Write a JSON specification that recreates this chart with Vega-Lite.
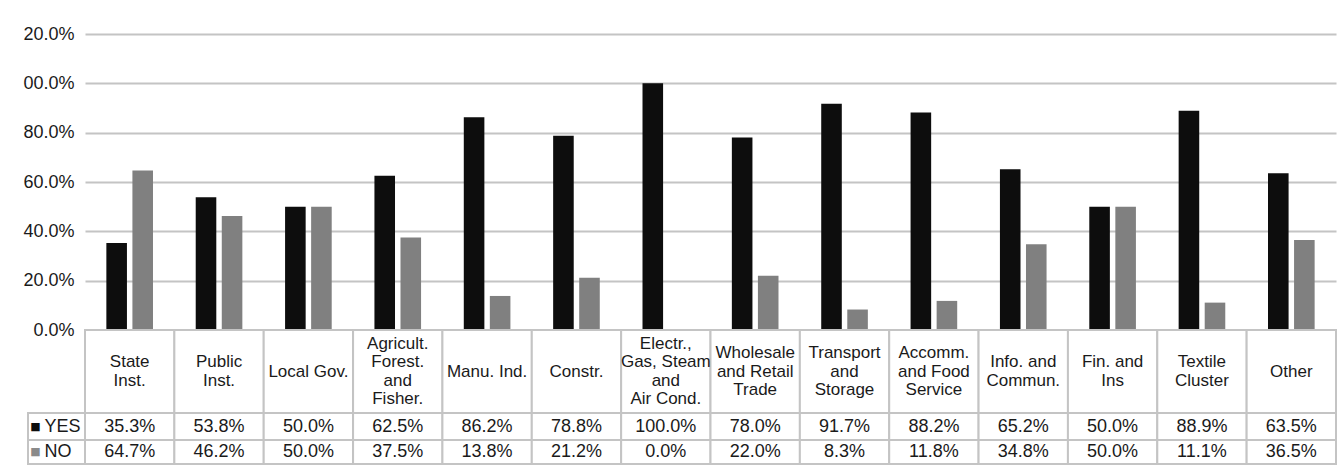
{
  "$schema": "https://vega.github.io/schema/vega-lite/v6.json",
  "padding": {"left": 22, "top": 25, "right": 0, "bottom": 0},
  "background": "white",
  "config": {
    "font": "Liberation Sans",
    "view": {"stroke": null},
    "text": {"font": "Liberation Sans", "color": "#1a1a1a"}
  },
  "datasets": {
    "vals": [
      {"cat": "State\nInst.", "series": "YES", "value": 0.353},
      {"cat": "Public\nInst.", "series": "YES", "value": 0.538},
      {"cat": "Local Gov.", "series": "YES", "value": 0.500},
      {"cat": "Agricult.\nForest.\nand\nFisher.", "series": "YES", "value": 0.625},
      {"cat": "Manu. Ind.", "series": "YES", "value": 0.862},
      {"cat": "Constr.", "series": "YES", "value": 0.788},
      {"cat": "Electr.,\nGas, Steam\nand\nAir Cond.", "series": "YES", "value": 1.000},
      {"cat": "Wholesale\nand Retail\nTrade", "series": "YES", "value": 0.780},
      {"cat": "Transport\nand\nStorage", "series": "YES", "value": 0.917},
      {"cat": "Accomm.\nand Food\nService", "series": "YES", "value": 0.882},
      {"cat": "Info. and\nCommun.", "series": "YES", "value": 0.652},
      {"cat": "Fin. and\nIns", "series": "YES", "value": 0.500},
      {"cat": "Textile\nCluster", "series": "YES", "value": 0.889},
      {"cat": "Other", "series": "YES", "value": 0.635},
      {"cat": "State\nInst.", "series": "NO", "value": 0.647},
      {"cat": "Public\nInst.", "series": "NO", "value": 0.462},
      {"cat": "Local Gov.", "series": "NO", "value": 0.500},
      {"cat": "Agricult.\nForest.\nand\nFisher.", "series": "NO", "value": 0.375},
      {"cat": "Manu. Ind.", "series": "NO", "value": 0.138},
      {"cat": "Constr.", "series": "NO", "value": 0.212},
      {"cat": "Electr.,\nGas, Steam\nand\nAir Cond.", "series": "NO", "value": 0.000},
      {"cat": "Wholesale\nand Retail\nTrade", "series": "NO", "value": 0.220},
      {"cat": "Transport\nand\nStorage", "series": "NO", "value": 0.083},
      {"cat": "Accomm.\nand Food\nService", "series": "NO", "value": 0.118},
      {"cat": "Info. and\nCommun.", "series": "NO", "value": 0.348},
      {"cat": "Fin. and\nIns", "series": "NO", "value": 0.500},
      {"cat": "Textile\nCluster", "series": "NO", "value": 0.111},
      {"cat": "Other", "series": "NO", "value": 0.365}
    ]
  },
  "data": {"name": "vals"},
  "columns": 2,
  "spacing": 0,
  "align": "each",
  "bounds": "flush",
  "concat": [
    {
      "width": 57, "height": 296,
      "transform": [{"filter": "false"}],
      "mark": {"type": "text"},
      "encoding": {}
    },
    {
      "width": 1251, "height": 296,
      "mark": {"type": "bar"},
      "encoding": {
        "x": {"field": "cat", "type": "nominal", "sort": null, "scale": {"paddingInner": 0, "paddingOuter": 0}, "axis": null},
        "xOffset": {"field": "series", "type": "nominal", "sort": ["YES", "NO"], "scale": {"paddingInner": 0.21, "paddingOuter": 0.82}},
        "y": {
          "field": "value", "type": "quantitative",
          "scale": {"domain": [0, 1.2]},
          "axis": {
            "values": [0, 0.2, 0.4, 0.6, 0.8, 1.0, 1.2],
            "labelExpr": "datum.value >= 0.99 ? substring(format(datum.value, '.1%'), 1) : format(datum.value, '.1%')",
            "domain": false, "ticks": false, "grid": true,
            "gridColor": "#c4c4c4", "gridWidth": 2,
            "labelFontSize": 18, "labelPadding": 11, "labelColor": "#1a1a1a",
            "labelFont": "Liberation Sans",
            "title": null
          }
        },
        "color": {"field": "series", "type": "nominal", "scale": {"domain": ["YES", "NO"], "range": ["#0d0d0d", "#808080"]}, "legend": null}
      }
    },
    {
      "width": 57, "height": 83,
      "transform": [{"filter": "false"}],
      "mark": {"type": "text"},
      "encoding": {}
    },
    {
      "width": 1251, "height": 83,
      "transform": [{"filter": "datum.series == 'YES'"}],
      "layer": [
        {
          "mark": {"type": "rect", "fill": "white", "stroke": "#c4c4c4", "strokeWidth": 2},
          "encoding": {
            "x": {"field": "cat", "type": "nominal", "sort": null, "scale": {"paddingInner": 0, "paddingOuter": 0}, "axis": null}
          }
        },
        {
          "mark": {
            "type": "text", "fontSize": 17, "lineHeight": 18.5, "lineBreak": "\n", "baseline": "middle",
            "dy": {"expr": "-(length(split(datum.cat, '\\n')) - 1) * 9.25"}
          },
          "encoding": {
            "x": {"field": "cat", "type": "nominal", "sort": null, "scale": {"paddingInner": 0, "paddingOuter": 0}, "axis": null},
            "text": {"field": "cat"}
          }
        }
      ]
    },
    {
      "width": 57, "height": 27,
      "view": {"stroke": "#c4c4c4", "strokeWidth": 2},
      "transform": [{"filter": "datum.series == 'YES' && datum.cat == 'Other'"}],
      "layer": [
        {
          "mark": {"type": "text", "font": "DejaVu Sans", "fontSize": 11, "dx": -21, "baseline": "middle", "color": "#0d0d0d"},
          "encoding": {"text": {"value": "■"}}
        },
        {
          "mark": {"type": "text", "fontSize": 18, "align": "left", "dx": -12, "baseline": "middle"},
          "encoding": {"text": {"field": "series"}}
        }
      ]
    },
    {
      "width": 1251, "height": 27,
      "transform": [{"filter": "datum.series == 'YES'"}],
      "layer": [
        {
          "mark": {"type": "rect", "fill": "white", "stroke": "#c4c4c4", "strokeWidth": 2},
          "encoding": {
            "x": {"field": "cat", "type": "nominal", "sort": null, "scale": {"paddingInner": 0, "paddingOuter": 0}, "axis": null}
          }
        },
        {
          "mark": {"type": "text", "fontSize": 18, "baseline": "middle"},
          "encoding": {
            "x": {"field": "cat", "type": "nominal", "sort": null, "scale": {"paddingInner": 0, "paddingOuter": 0}, "axis": null},
            "text": {"field": "value", "format": ".1%"}
          }
        }
      ]
    },
    {
      "width": 57, "height": 24,
      "view": {"stroke": "#c4c4c4", "strokeWidth": 2},
      "transform": [{"filter": "datum.series == 'NO' && datum.cat == 'Other'"}],
      "layer": [
        {
          "mark": {"type": "text", "font": "DejaVu Sans", "fontSize": 11, "dx": -21, "baseline": "middle", "color": "#8a8a8a"},
          "encoding": {"text": {"value": "■"}}
        },
        {
          "mark": {"type": "text", "fontSize": 18, "align": "left", "dx": -12, "baseline": "middle"},
          "encoding": {"text": {"field": "series"}}
        }
      ]
    },
    {
      "width": 1251, "height": 24,
      "transform": [{"filter": "datum.series == 'NO'"}],
      "layer": [
        {
          "mark": {"type": "rect", "fill": "white", "stroke": "#c4c4c4", "strokeWidth": 2},
          "encoding": {
            "x": {"field": "cat", "type": "nominal", "sort": null, "scale": {"paddingInner": 0, "paddingOuter": 0}, "axis": null}
          }
        },
        {
          "mark": {"type": "text", "fontSize": 18, "baseline": "middle"},
          "encoding": {
            "x": {"field": "cat", "type": "nominal", "sort": null, "scale": {"paddingInner": 0, "paddingOuter": 0}, "axis": null},
            "text": {"field": "value", "format": ".1%"}
          }
        }
      ]
    }
  ]
}
